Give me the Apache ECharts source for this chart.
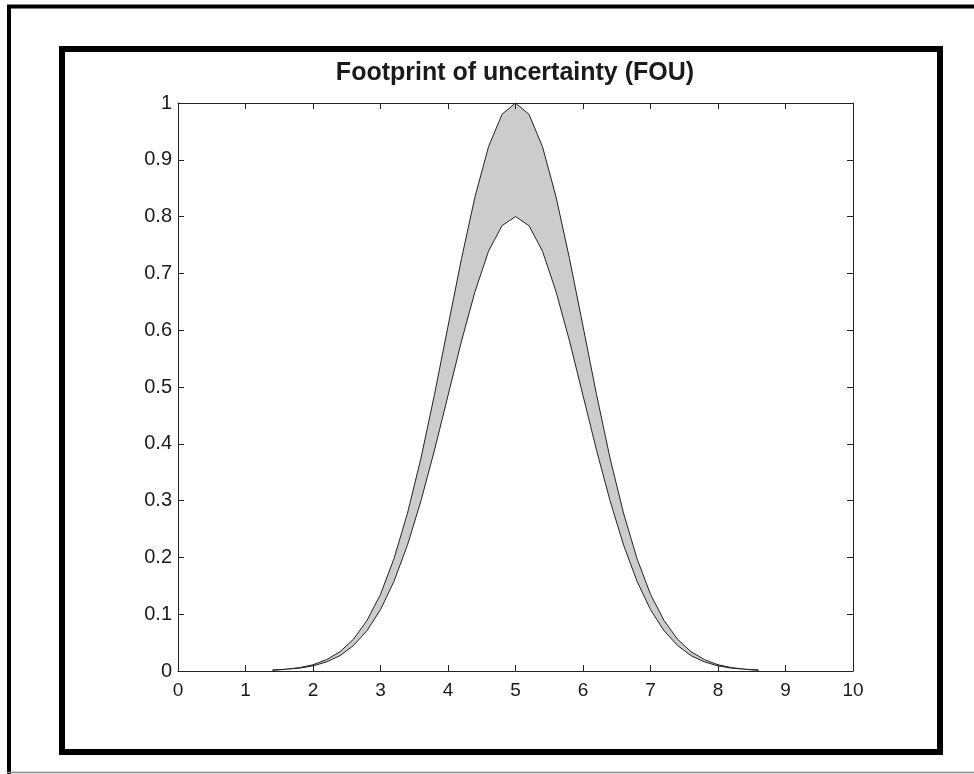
<!DOCTYPE html>
<html>
<head>
<meta charset="utf-8">
<script src="https://cdn.jsdelivr.net/npm/echarts@6/dist/echarts.min.js"></script>
<style>
    html, body {margin:0;padding:0;background:#fff;}
    #fou {width:974px;height:774px;}
</style>
</head>
<body>
<div id="fou"></div>
<script>
    // sample points along x
    var xs = [1.4, 1.6, 1.8, 2.0, 2.2, 2.4, 2.6, 2.8, 3.0, 3.2, 3.4, 3.6, 3.8, 4.0, 4.2, 4.4, 4.6, 4.8, 5.0,
        5.2, 5.4, 5.6, 5.8, 6.0, 6.2, 6.4, 6.6, 6.8, 7.0, 7.2, 7.4, 7.6, 7.8, 8.0, 8.2, 8.4, 8.6];
    // upper membership function (outer line)
    var upperMF = [0.002, 0.003, 0.006, 0.011, 0.020, 0.034, 0.056, 0.089, 0.135, 0.198, 0.278, 0.375, 0.487, 0.607, 0.726, 0.835, 0.923, 0.980, 1.000,
        0.980, 0.923, 0.835, 0.726, 0.607, 0.487, 0.375, 0.278, 0.198, 0.135, 0.089, 0.056, 0.034, 0.020, 0.011, 0.006, 0.003, 0.002];
    // lower membership function (inner line)
    var lowerMF = [0.001, 0.003, 0.005, 0.009, 0.016, 0.027, 0.045, 0.071, 0.108, 0.158, 0.222, 0.300, 0.389, 0.485, 0.581, 0.668, 0.739, 0.784, 0.800,
        0.784, 0.739, 0.668, 0.581, 0.485, 0.389, 0.300, 0.222, 0.158, 0.108, 0.071, 0.045, 0.027, 0.016, 0.009, 0.005, 0.003, 0.001];
    var titleText = 'Footprint of uncertainty (FOU)';

    var upperData = xs.map(function (x, i) { return [x, upperMF[i]]; });
    var lowerData = xs.map(function (x, i) { return [x, lowerMF[i]]; });

    var font = 'Liberation Sans, Arial, sans-serif';
    // axes drawn above the series so the inside ticks stay visible
    var axisCommon = {
        type: 'value', z: 10,
        axisLine: {show: true, onZero: false, lineStyle: {color: '#222', width: 1}},
        axisTick: {show: true, inside: true, length: 6, lineStyle: {color: '#222', width: 1}},
        splitLine: {show: false}
    };

    var chart = echarts.init(document.getElementById('fou'), null, {renderer: 'canvas'});
    chart.setOption({
        animation: false,
        backgroundColor: '#fff',
        title: {
            text: titleText,
            left: 515, top: 61, textAlign: 'center', padding: 0,
            textStyle: {fontFamily: font, fontWeight: 'bold', fontSize: 25, color: '#1a1a1a'}
        },
        grid: {left: 178, top: 103, width: 675, height: 568, containLabel: false},
        xAxis: [
            Object.assign({}, axisCommon, {
                position: 'bottom', min: 0, max: 10, interval: 1,
                axisLabel: {margin: 10, fontFamily: font, fontSize: 19, color: '#1a1a1a'}
            }),
            Object.assign({}, axisCommon, {
                position: 'top', min: 0, max: 10, interval: 1,
                axisLabel: {show: false}
            })
        ],
        yAxis: [
            Object.assign({}, axisCommon, {
                position: 'left', min: 0, max: 1, interval: 0.1,
                axisLabel: {margin: 6, fontFamily: font, fontSize: 20, color: '#1a1a1a'}
            }),
            Object.assign({}, axisCommon, {
                position: 'right', min: 0, max: 1, interval: 0.1,
                axisLabel: {show: false}
            })
        ],
        series: [
            {
                // gray area under the upper MF
                name: 'upper', type: 'line', data: upperData,
                showSymbol: false, z: 2,
                lineStyle: {color: '#222', width: 1},
                areaStyle: {color: '#cccccc', opacity: 1, origin: 'start'}
            },
            {
                // white area under the lower MF leaves only the FOU band gray
                name: 'lower', type: 'line', data: lowerData,
                showSymbol: false, z: 3,
                lineStyle: {color: '#222', width: 1},
                areaStyle: {color: '#ffffff', opacity: 1, origin: 'start'}
            }
        ],
        graphic: [
            // outer frame (only left, top and bottom show)
            {type: 'line', shape: {x1: 9, y1: 5, x2: 9, y2: 774}, style: {stroke: '#000', lineWidth: 4}},
            {type: 'line', shape: {x1: 7, y1: 6.5, x2: 974, y2: 6.5}, style: {stroke: '#000', lineWidth: 4}},
            {type: 'line', shape: {x1: 7, y1: 772.5, x2: 974, y2: 772.5}, style: {stroke: '#888', lineWidth: 1.5}},
            // thick inner frame
            {type: 'rect', shape: {x: 62, y: 49, width: 878, height: 703},
                style: {fill: null, stroke: '#000', lineWidth: 6}}
        ]
    });
</script>
</body>
</html>
